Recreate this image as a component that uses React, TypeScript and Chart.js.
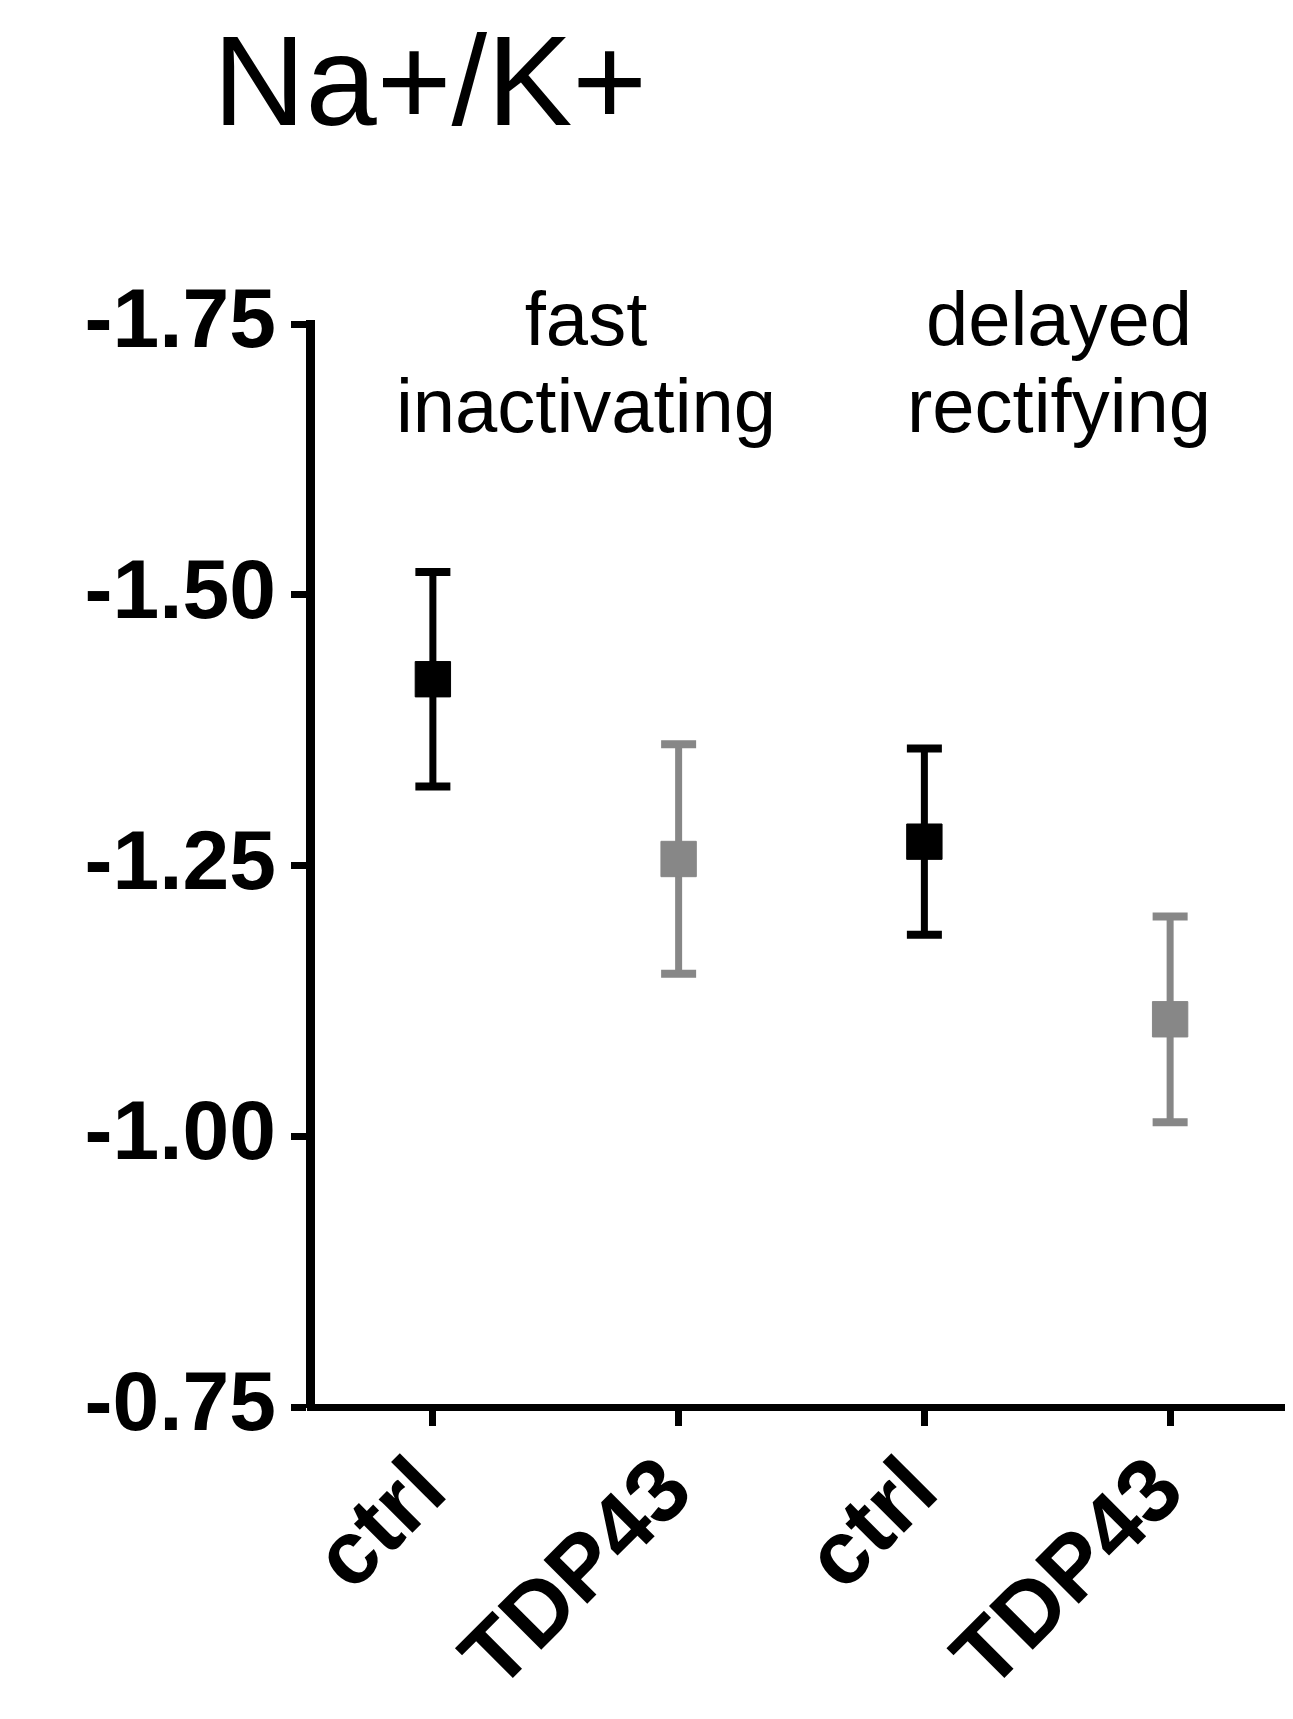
import React, { useEffect, useRef } from 'react';
import { Chart, registerables } from 'chart.js';

Chart.register(...registerables);

// ---- data ----
const categories = ['ctrl', 'TDP43', 'ctrl', 'TDP43'];
const ctrlMean = [-1.422, null, -1.272, null];
const ctrlSem = [0.099, null, 0.086, null];
const tdpMean = [null, -1.256, null, -1.108];
const tdpSem = [null, 0.106, null, 0.095];
const yTicks = [-1.75, -1.5, -1.25, -1.0, -0.75];
const titleText = 'Na+/K+';
const groupLabels = [
  ['fast', 'inactivating'],
  ['delayed', 'rectifying'],
];

const BLACK = '#000000';
const GRAY = '#878787';
const FONT = '"Liberation Sans", Arial, Helvetica, sans-serif';

const semSets = [ctrlSem, tdpSem];

const errorBarsPlugin = {
  id: 'errorBars',
  beforeDatasetsDraw(chart: any) {
    const { ctx } = chart;
    const x = chart.scales.x;
    const y = chart.scales.y;
    chart.data.datasets.forEach((ds: any, di: number) => {
      const sems = semSets[di];
      ds.data.forEach((v: number | null, i: number) => {
        if (v == null) return;
        const s = sems[i] as number;
        const px = x.getPixelForValue(i);
        const yA = y.getPixelForValue(v - s);
        const yB = y.getPixelForValue(v + s);
        ctx.save();
        ctx.strokeStyle = ds.borderColor;
        ctx.lineCap = 'butt';
        ctx.lineWidth = 7;
        ctx.beginPath();
        ctx.moveTo(px, yA);
        ctx.lineTo(px, yB);
        ctx.stroke();
        ctx.lineWidth = 8;
        ctx.beginPath();
        ctx.moveTo(px - 17.5, yA);
        ctx.lineTo(px + 17.5, yA);
        ctx.moveTo(px - 17.5, yB);
        ctx.lineTo(px + 17.5, yB);
        ctx.stroke();
        ctx.restore();
      });
    });
  },
};

const textPlugin = {
  id: 'textLabels',
  afterDraw(chart: any) {
    const { ctx } = chart;
    ctx.save();
    ctx.fillStyle = BLACK;
    ctx.font = `128px ${FONT}`;
    ctx.textAlign = 'left';
    ctx.textBaseline = 'alphabetic';
    ctx.fillText(titleText, 205, 117);
    ctx.font = `76px ${FONT}`;
    ctx.textAlign = 'center';
    const centers = [578, 1051];
    const baselines = [337, 424];
    groupLabels.forEach((lines, gi) => {
      lines.forEach((line, li) => {
        ctx.fillText(line, centers[gi], baselines[li]);
      });
    });
    ctx.restore();
  },
};

export default function App() {
  const canvasRef = useRef<HTMLCanvasElement | null>(null);

  useEffect(() => {
    if (!canvasRef.current) return;
    const chart = new Chart(canvasRef.current, {
      type: 'line',
      data: {
        labels: categories,
        datasets: [
          {
            label: 'ctrl',
            data: ctrlMean,
            showLine: false,
            pointStyle: 'rect',
            pointRadius: 25,
            pointHoverRadius: 25,
            pointBorderWidth: 1,
            backgroundColor: BLACK,
            borderColor: BLACK,
          },
          {
            label: 'TDP43',
            data: tdpMean,
            showLine: false,
            pointStyle: 'rect',
            pointRadius: 25,
            pointHoverRadius: 25,
            pointBorderWidth: 1,
            backgroundColor: GRAY,
            borderColor: GRAY,
          },
        ],
      },
      options: {
        animation: false,
        responsive: true,
        maintainAspectRatio: false,
        devicePixelRatio: 1,
        events: [],
        layout: {
          autoPadding: false,
          padding: { top: 316, left: 0, right: 0, bottom: 0 },
        },
        plugins: {
          legend: { display: false },
          title: { display: false },
          tooltip: { enabled: false },
        },
        scales: {
          x: {
            type: 'category',
            offset: true,
            border: { display: true, color: BLACK, width: 7 },
            grid: {
              display: true,
              drawOnChartArea: false,
              drawTicks: true,
              tickLength: 19,
              tickWidth: 7,
              tickColor: BLACK,
              color: BLACK,
            },
            ticks: {
              autoSkip: false,
              minRotation: 45,
              maxRotation: 45,
              padding: 13,
              color: BLACK,
              font: { family: FONT, size: 90, weight: 'bold' },
            },
            afterFit(scale: any) {
              scale.height = 304;
              scale.paddingLeft = 0;
              scale.paddingRight = 0;
            },
          },
          y: {
            type: 'linear',
            reverse: true,
            min: -1.75,
            max: -0.75,
            border: { display: true, color: BLACK, width: 9 },
            grid: {
              display: true,
              drawOnChartArea: false,
              drawTicks: true,
              tickLength: 19,
              tickWidth: 7,
              tickColor: BLACK,
              color: BLACK,
            },
            afterBuildTicks(scale: any) {
              scale.ticks = yTicks.map((v) => ({ value: v }));
            },
            ticks: {
              padding: 15,
              color: BLACK,
              font: { family: FONT, size: 84, weight: 'bold' },
              callback: (v: any) => Number(v).toFixed(2),
            },
            afterFit(scale: any) {
              scale.width = 302;
            },
          },
        },
      },
      plugins: [errorBarsPlugin, textPlugin],
    } as any);
    return () => chart.destroy();
  }, []);

  return (
    <div style={{ position: 'relative', width: 1285, height: 1703 }}>
      <canvas ref={canvasRef} style={{ display: 'block' }} />
    </div>
  );
}
